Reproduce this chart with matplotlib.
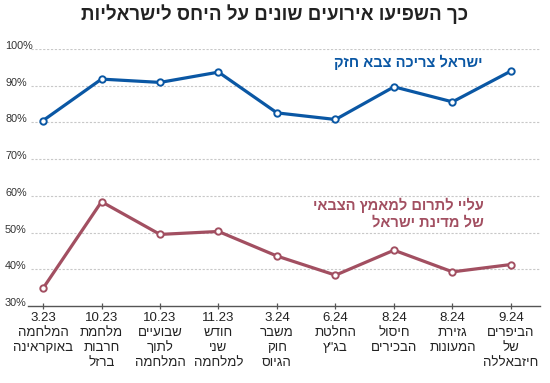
import matplotlib
matplotlib.use("Agg")
import matplotlib.pyplot as plt
import matplotlib.transforms as mtransforms

plt.rcParams['font.family'] = ['Liberation Sans', 'DejaVu Sans']

dates = ["3.23", "10.23", "10.23", "11.23", "3.24", "6.24", "8.24", "8.24", "9.24"]
events = [
    ["המלחמה", "באוקראינה"],
    ["מלחמת", "חרבות", "ברזל"],
    ["שבועיים", "לתוך", "המלחמה"],
    ["חודש", "שני", "למלחמה"],
    ["משבר", "חוק", "הגיוס"],
    ["החלטת", "בג\"ץ"],
    ["חיסול", "הבכירים"],
    ["גזירת", "המעונות"],
    ["הביפרים", "של", "חיזבאללה"],
]
strong_army = [80.5, 91.8, 90.9, 93.7, 82.6, 80.8, 89.7, 85.6, 94.0]
contribute = [34.8, 58.4, 49.5, 50.3, 43.6, 38.4, 45.2, 39.3, 41.3]
yticks = [30, 40, 50, 60, 70, 80, 90, 100]

title = "כך השפיעו אירועים שונים על היחס לישראליות"
label_blue = "ישראל צריכה צבא חזק"
label_red = ["עליי לתרום למאמץ הצבאי", "של מדינת ישראל"]

BLUE = "#0a57a4"
RED = "#a24f61"


def rtl(s):
    return s[::-1]


W, H = 550, 383
fig = plt.figure(figsize=(W / 100, H / 100), dpi=100)
ax = fig.add_axes([28 / W, (H - 306) / H, 512 / W, 257 / H])
n = len(dates)
ax.set_xlim(-15 / 58.5, (n - 1) + 29 / 58.5)
ax.set_ylim(30, 100)

for s in ['top', 'right', 'left']:
    ax.spines[s].set_visible(False)
ax.spines['bottom'].set_color('#555555')
ax.spines['bottom'].set_linewidth(1.0)

gx0 = 3 / 512
for v in yticks[1:]:
    ax.axhline(v, xmin=gx0, xmax=1, color='#c8c8c8', lw=0.8, ls=(0, (2, 1.5)), zorder=0)

ax.set_yticks([])
ax.set_xticks(range(n))
ax.set_xticklabels([])
ax.tick_params(axis='x', direction='inout', length=5, width=0.9, color='#555555')

x = list(range(n))
for vals, col in [(strong_army, BLUE), (contribute, RED)]:
    ax.plot(x, vals, color=col, lw=2.3, marker='o', ms=4.6, mfc='white',
            mec=col, mew=1.4, clip_on=False, zorder=3)

ytr = mtransforms.offset_copy(ax.get_yaxis_transform(), fig=fig, x=0, y=3, units='dots')
for v in yticks:
    ax.text(-23 / 512, v, f"{v}%", transform=ytr, ha='left', va='center',
            fontsize=7.8, color='#333333')

xtr = ax.get_xaxis_transform()
for i in range(n):
    lines = [dates[i]] + [rtl(t) for t in events[i]]
    for j, t in enumerate(lines):
        ax.text(i, 0, t, transform=mtransforms.offset_copy(xtr, fig=fig, x=0, y=-12 - 15 * j, units='dots'),
                ha='center', va='center', fontsize=9.5, color='#222222')

fig.text(275 / W, 1 - 14 / H, rtl(title), ha='center', va='center', fontsize=13.5,
         fontweight='bold', color='#222222')

fig.text(483 / W, 1 - 62 / H, rtl(label_blue), ha='right', va='center', fontsize=10.5,
         fontweight='bold', color=BLUE)
for j, t in enumerate(label_red):
    fig.text(484 / W, 1 - (205 + 17 * j) / H, rtl(t), ha='right', va='center', fontsize=10.5,
             fontweight='bold', color=RED)

fig.savefig("out.png", dpi=100)
